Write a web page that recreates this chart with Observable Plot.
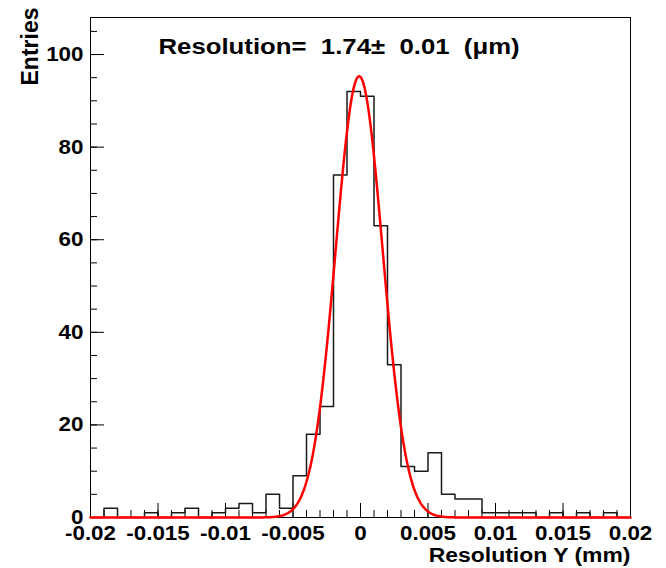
<!DOCTYPE html>
<html>
<head>
<meta charset="utf-8">
<script src="https://cdn.jsdelivr.net/npm/d3@7"></script>
<script src="https://cdn.jsdelivr.net/npm/@observablehq/plot@0.6"></script>
<style>
  html, body { margin: 0; padding: 0; background: #fff; }
</style>
</head>
<body>
<div id="chart"></div>
<script>
// Histogram: 40 bins of width 0.001 mm from -0.02 to 0.02
const binCounts = [0, 2, 0, 0, 1, 0, 1, 2, 0, 1,
                   2, 3, 1, 5, 2, 9, 18, 24, 74, 92,
                   91, 63, 33, 11, 10, 14, 5, 4, 4, 1,
                   1, 1, 1, 0, 1, 0, 1, 0, 1, 0];
const binLow = -0.02;
const binWidth = 0.001;

// Gaussian fit parameters
const fitAmplitude = 95.3;
const fitMean = -0.0001;
const fitSigma = 0.00174;

// Axes
const xTicks = [-0.02, -0.015, -0.01, -0.005, 0, 0.005, 0.01, 0.015, 0.02];
const xTickLabels = ["-0.02", "-0.015", "-0.01", "-0.005", "0", "0.005", "0.01", "0.015", "0.02"];
const xMinorTicks = d3.range(0, 41).map(i => binLow + i * binWidth);
const yTicks = [0, 20, 40, 60, 80, 100];
const yTickLabels = ["0", "20", "40", "60", "80", "100"];
const yMinorTicks = d3.range(0, 22).map(i => i * 5);

const titleText = "Resolution=  1.74±  0.01  (μm)";
const xTitle = "Resolution Y (mm)";
const yTitle = "Entries";

// Build tables
const histPts = binCounts.map((c, i) => ({x: binLow + i * binWidth, y: c}));
histPts.push({x: binLow + binCounts.length * binWidth, y: binCounts[binCounts.length - 1]});

const fitPts = d3.range(0, 801).map(i => {
  const x = -0.02 + i * 0.00005;
  return {x, y: fitAmplitude * Math.exp(-0.5 * ((x - fitMean) / fitSigma) ** 2)};
});

const font = "'Liberation Sans', Arial, Helvetica, sans-serif";
const xLab = new Map(xTicks.map((t, i) => [t, xTickLabels[i]]));
const yLab = new Map(yTicks.map((t, i) => [t, yTickLabels[i]]));

const chart = Plot.plot({
  width: 666,
  height: 568,
  marginLeft: 90,
  marginRight: 36,
  marginTop: 17,
  marginBottom: 51,
  style: {fontFamily: font, color: "#000", background: "#fff", whiteSpace: "pre"},
  x: {domain: [-0.02, 0.02], axis: null},
  y: {domain: [0, 108], axis: null},
  marks: [
    Plot.frame({stroke: "#000", strokeWidth: 1}),
    // minor ticks
    Plot.axisX(xMinorTicks, {anchor: "bottom", tickSize: -7, fill: "none", label: null, stroke: "#000"}),
    Plot.axisY(yMinorTicks, {anchor: "left", tickSize: -7, fill: "none", label: null, stroke: "#000"}),
    // major ticks
    Plot.axisX(xTicks, {anchor: "bottom", tickSize: -14, fill: "none", label: null, stroke: "#000"}),
    Plot.axisY(yTicks, {anchor: "left", tickSize: -14, fill: "none", label: null, stroke: "#000"}),
    // tick labels
    Plot.axisX(xTicks, {anchor: "bottom", tickSize: 0, tickPadding: 8, label: null,
      tickFormat: d => xLab.get(d), fontSize: 20, fontWeight: "bold", fill: "#000"}),
    Plot.axisY(yTicks, {anchor: "left", tickSize: 0, tickPadding: 7, label: null,
      tickFormat: d => yLab.get(d), fontSize: 20, fontWeight: "bold", fill: "#000"}),
    // histogram outline
    Plot.line(histPts, {x: "x", y: "y", curve: "step-after", stroke: "#1a1a1a", strokeWidth: 1.5}),
    // gaussian fit
    Plot.line(fitPts, {x: "x", y: "y", stroke: "#ff0000", strokeWidth: 2.5}),
    // title
    Plot.text([titleText], {frameAnchor: "top-left", dx: 68, dy: 36.3, lineAnchor: "bottom",
      textAnchor: "start", fontSize: 23, fontWeight: "bold", fill: "#000"}),
    // axis titles
    Plot.text([xTitle], {frameAnchor: "bottom-right", dy: 44.5, lineAnchor: "bottom",
      textAnchor: "end", fontSize: 20.5, fontWeight: "bold", fill: "#000"}),
    Plot.text([yTitle], {frameAnchor: "top-left", dx: -53, dy: -10, rotate: -90, lineAnchor: "bottom",
      textAnchor: "end", fontSize: 23, fontWeight: "bold", fill: "#000"})
  ]
});

// The reference lettering is slightly wider than Liberation Sans: stretch horizontal texts a little.
d3.select(chart).selectAll("text").each(function () {
  const t = this.getAttribute("transform") || "";
  if (!t.includes("rotate")) this.setAttribute("transform", (t + " scale(1.12,1)").trim());
});

document.getElementById("chart").appendChild(chart);
</script>
</body>
</html>
